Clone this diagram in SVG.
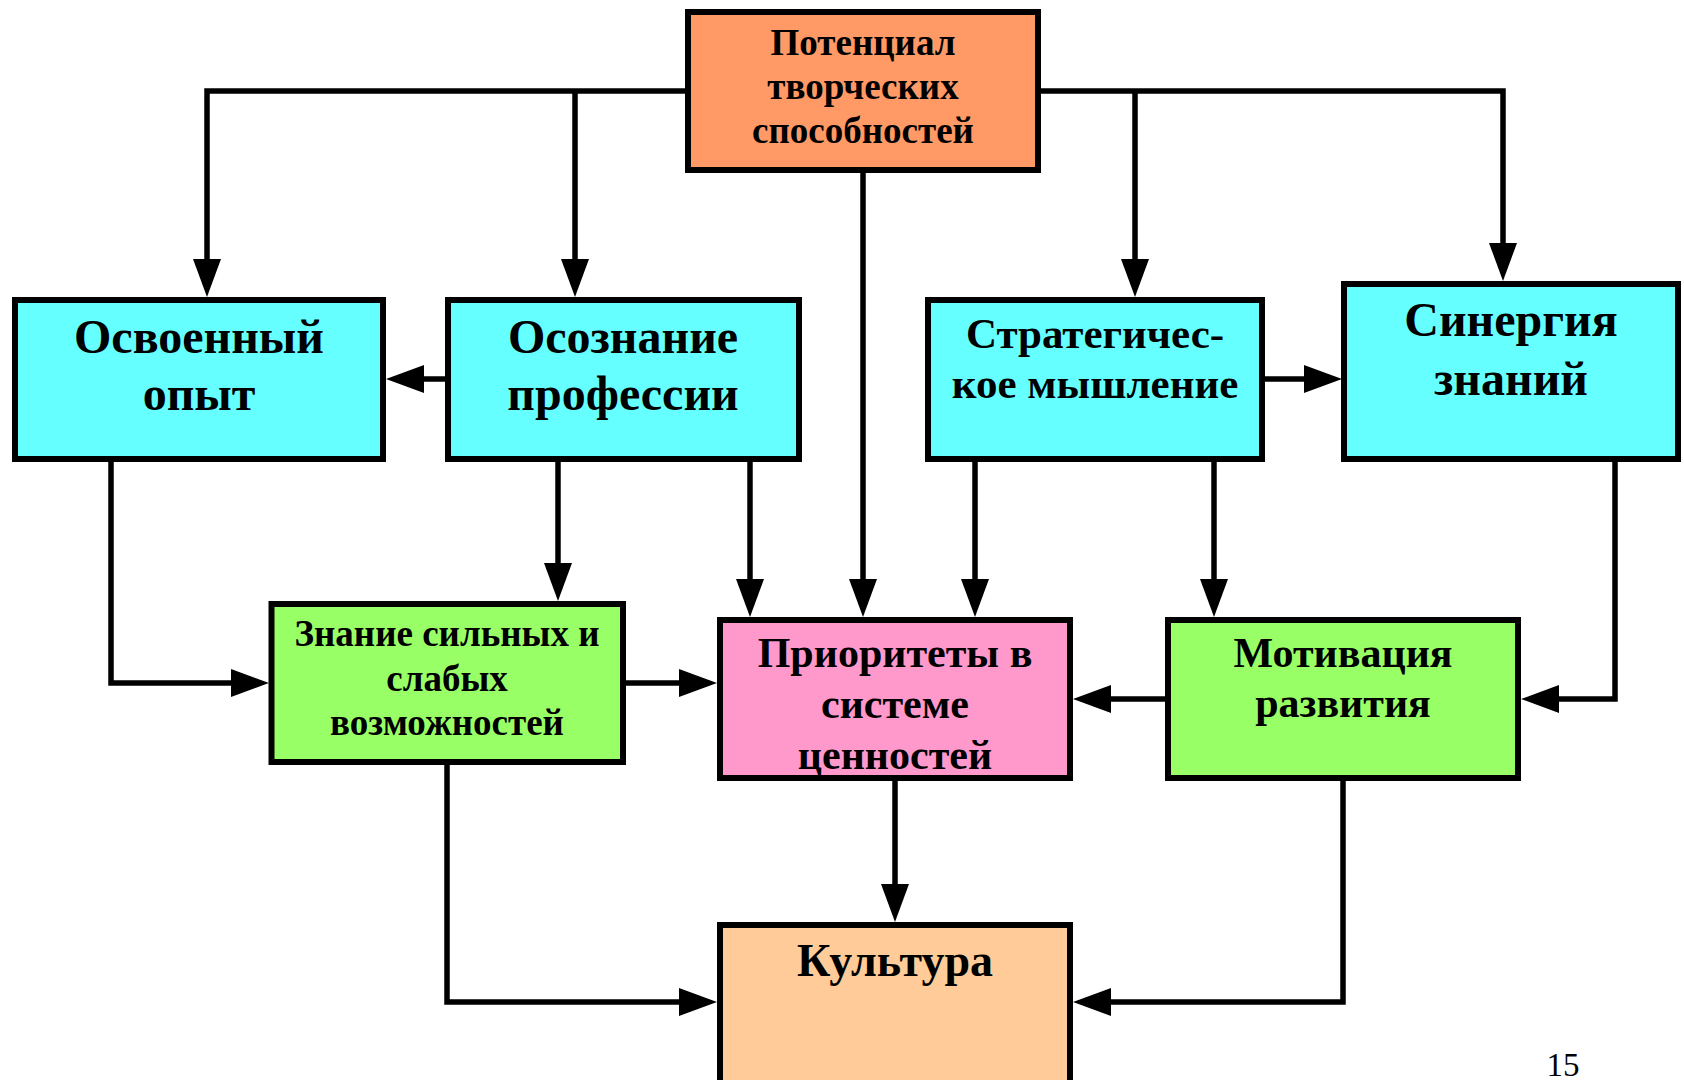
<svg xmlns="http://www.w3.org/2000/svg" width="1684" height="1080" viewBox="0 0 1684 1080">
  <defs>
    <style>
      .box { stroke: #000; stroke-width: 6; }
      .lbl { font-family: "Liberation Serif", "Times New Roman", serif; font-weight: bold; text-anchor: middle; fill: #000; }
      .conn { fill: none; stroke: #000; stroke-width: 5.5; marker-end: url(#arrow); }
    </style>
    <!-- tip sits 30px beyond the path end -->
    <marker id="arrow" markerUnits="userSpaceOnUse" markerWidth="40" markerHeight="30" refX="8" refY="14" orient="auto" overflow="visible">
      <path d="M0,0 L38,14 L0,28 Z" fill="#000"/>
    </marker>
  </defs>

  <rect width="1684" height="1080" fill="#fff"/>

  <g id="connectors">
    <path class="conn" d="M685,91 H207 V267"/>
    <path class="conn" d="M575,91 V267"/>
    <path class="conn" d="M1041,91 H1503 V251"/>
    <path class="conn" d="M1135,91 V267"/>
    <path class="conn" d="M863,173 V587"/>
    <path class="conn" d="M445,379 H416"/>
    <path class="conn" d="M1265,379 H1312"/>
    <path class="conn" d="M111,462 V683 H239"/>
    <path class="conn" d="M558,462 V571"/>
    <path class="conn" d="M750,462 V587"/>
    <path class="conn" d="M975,462 V587"/>
    <path class="conn" d="M1214,462 V587"/>
    <path class="conn" d="M1615,462 V699 H1551"/>
    <path class="conn" d="M626,683 H687"/>
    <path class="conn" d="M1165,699 H1103"/>
    <path class="conn" d="M895,781 V892"/>
    <path class="conn" d="M447,765 V1002 H687"/>
    <path class="conn" d="M1343,781 V1002 H1103"/>
  </g>

  <g id="potential">
    <rect class="box" x="688" y="12" width="350" height="158" fill="#FF9966"/>
    <text class="lbl" font-size="37" x="863" y="55">Потенциал</text>
    <text class="lbl" font-size="37" x="863" y="99">творческих</text>
    <text class="lbl" font-size="37" x="863" y="143">способностей</text>
  </g>

  <g id="experience">
    <rect class="box" x="15" y="300" width="368" height="159" fill="#66FFFF"/>
    <text class="lbl" font-size="48" x="199" y="353">Освоенный</text>
    <text class="lbl" font-size="48" x="199" y="410">опыт</text>
  </g>

  <g id="awareness">
    <rect class="box" x="448" y="300" width="351" height="159" fill="#66FFFF"/>
    <text class="lbl" font-size="48" x="623" y="353">Осознание</text>
    <text class="lbl" font-size="48" x="623" y="410">профессии</text>
  </g>

  <g id="strategic">
    <rect class="box" x="928" y="300" width="334" height="159" fill="#66FFFF"/>
    <text class="lbl" font-size="43" x="1095" y="348">Стратегичес-</text>
    <text class="lbl" font-size="43" x="1095" y="398">кое мышление</text>
  </g>

  <g id="synergy">
    <rect class="box" x="1344" y="284" width="334" height="175" fill="#66FFFF"/>
    <text class="lbl" font-size="48" x="1511" y="336">Синергия</text>
    <text class="lbl" font-size="48" x="1511" y="395">знаний</text>
  </g>

  <g id="strengths">
    <rect class="box" x="271.5" y="604" width="351.5" height="158" fill="#99FF66"/>
    <text class="lbl" font-size="37" x="447" y="646">Знание сильных и</text>
    <text class="lbl" font-size="37" x="447" y="691">слабых</text>
    <text class="lbl" font-size="37" x="447" y="735">возможностей</text>
  </g>

  <g id="priorities">
    <rect class="box" x="720" y="620" width="350" height="158" fill="#FF99CC"/>
    <text class="lbl" font-size="42" x="895" y="667">Приоритеты в</text>
    <text class="lbl" font-size="42" x="895" y="718">системе</text>
    <text class="lbl" font-size="42" x="895" y="769">ценностей</text>
  </g>

  <g id="motivation">
    <rect class="box" x="1168" y="620" width="350" height="158" fill="#99FF66"/>
    <text class="lbl" font-size="42" x="1343" y="667">Мотивация</text>
    <text class="lbl" font-size="42" x="1343" y="717">развития</text>
  </g>

  <g id="culture">
    <rect class="box" x="720" y="925" width="350" height="200" fill="#FFCC99"/>
    <text class="lbl" font-size="46" x="895" y="976">Культура</text>
  </g>

  <text x="1563" y="1076" font-family="Liberation Serif, serif" font-size="33" text-anchor="middle" fill="#000">15</text>
</svg>
